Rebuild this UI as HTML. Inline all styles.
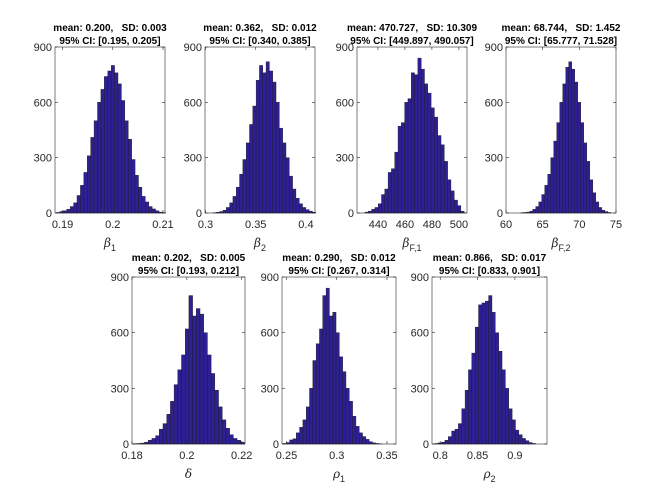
<!DOCTYPE html>
<html><head><meta charset="utf-8"><style>
body{margin:0;background:#fff;}
svg{display:block;font-family:"Liberation Sans",sans-serif;}
text{white-space:pre;}
</style></head><body>
<svg id="fig" width="658" height="489" viewBox="0 0 658 489"></svg>
<script>
const p1Counts=[3,8,12,20,35,55,95,150,220,310,410,500,600,670,740,770,800,760,700,610,500,400,290,205,140,90,60,35,22,12,5,2];
const p2Counts=[2,4,8,15,30,55,90,140,210,290,380,480,580,720,800,760,820,770,710,600,460,380,300,200,130,80,50,30,18,10,4];
const p3Counts=[5,10,20,30,50,100,130,220,240,330,470,490,600,620,760,750,840,780,700,650,570,520,420,370,280,180,120,70,40,10];
const p4Counts=[2,3,5,10,20,35,60,100,150,210,300,390,490,600,700,790,820,780,710,600,490,380,280,180,110,60,30,15,8,3];
const p5Counts=[2,3,5,10,20,30,45,80,110,160,230,320,400,480,620,800,690,730,700,600,480,380,290,200,130,85,50,30,20,10];
const p6Counts=[3,8,22,28,60,90,130,200,300,450,540,620,800,840,690,710,600,470,390,300,230,150,95,60,40,25,12,6,3,1];
const p7Counts=[3,6,10,20,40,70,80,110,190,290,400,490,630,750,760,770,800,710,600,500,400,300,190,130,75,50,30,18,8,3];
const binStarts=[0.1888,0.3075,430.4,62.0,0.1805,0.2465,0.7928];
const binWidths=[0.00068,0.0033,2.45,0.41,0.00135,0.0033,0.0045];
const xLims=[[0.1885,0.2104],[0.2995,0.409],[424.5,506],[60,75],[0.18,0.2212],[0.2455,0.359],[0.789,0.943]];
const xTicks=[[0.19,0.2,0.21],[0.3,0.35,0.4],[440,460,480,500],[60,65,70,75],[0.18,0.2,0.22],[0.25,0.3,0.35],[0.8,0.85,0.9]];
const yTicks=[0,300,600,900];
const titles1=["mean: 0.200,   SD: 0.003","mean: 0.362,   SD: 0.012","mean: 470.727,   SD: 10.309","mean: 68.744,   SD: 1.452","mean: 0.202,   SD: 0.005","mean: 0.290,   SD: 0.012","mean: 0.866,   SD: 0.017"];
const titles2=["95% CI: [0.195, 0.205]","95% CI: [0.340, 0.385]","95% CI: [449.897, 490.057]","95% CI: [65.777, 71.528]","95% CI: [0.193, 0.212]","95% CI: [0.267, 0.314]","95% CI: [0.833, 0.901]"];
const symbols=["β","β","β","β","δ","ρ","ρ"];
const subs=["1","2","F,1","F,2","","1","2"];
const allCounts=[p1Counts,p2Counts,p3Counts,p4Counts,p5Counts,p6Counts,p7Counts];
const boxes=[[55,47,110,166],[205,47,110,166],[357,47,110,166],[506,47,110,166],[132,277,113,167],[282,277,114,167],[432,277,115,167]];
const NS="http://www.w3.org/2000/svg";
const svg=document.getElementById('fig');
function mk(t,a,parent){const e=document.createElementNS(NS,t);for(const k in a)e.setAttribute(k,a[k]);(parent||svg).appendChild(e);return e;}
function fmt(v){return String(+v.toFixed(4));}
for(let i=0;i<7;i++){
  const [bx,by,bw,bh]=boxes[i];
  const g=mk('g',{});
  
  
  const xs=v=>bx+(v-xLims[i][0])/(xLims[i][1]-xLims[i][0])*bw;
  const ys=v=>by+bh-v/900*bh;
  const c=allCounts[i];
  for(let j=0;j<c.length;j++){
    const x0=xs(binStarts[i]+j*binWidths[i]),x1=xs(binStarts[i]+(j+1)*binWidths[i]);
    const r=mk('rect',{x:x0,y:ys(c[j]),width:x1-x0,height:ys(0)-ys(c[j]),fill:'#2e1f94',stroke:'#1a1a1a','stroke-width':0.4},g);
    
    
  }
  const box=mk('rect',{x:bx,y:by,width:bw,height:bh,fill:'none',stroke:'#262626','stroke-width':0.6},g);
  
  
  yTicks.forEach(t=>{
    const y=ys(t);
    mk('line',{x1:bx,x2:bx+3,y1:y,y2:y,stroke:'#262626','stroke-width':0.6},g);
    mk('line',{x1:bx+bw,x2:bx+bw-3,y1:y,y2:y,stroke:'#262626','stroke-width':0.6},g);
    const tx=mk('text',{x:bx-3,y:y+4,'font-size':11,fill:'#262626','text-anchor':'end'},g);
    tx.textContent=t;
    
    
  });
  xTicks[i].forEach(t=>{
    const x=xs(t);
    mk('line',{x1:x,x2:x,y1:by+bh,y2:by+bh-3,stroke:'#262626','stroke-width':0.6},g);
    mk('line',{x1:x,x2:x,y1:by,y2:by+3,stroke:'#262626','stroke-width':0.6},g);
    const tx=mk('text',{x:x,y:by+bh+15,'font-size':11,fill:'#262626','text-anchor':'middle'},g);
    tx.textContent=fmt(t);
    
    
  });
  const cx=bx+bw/2;
  const t1=mk('text',{x:cx,y:by-16,'font-size':10,'font-weight':'bold',fill:'#000','text-anchor':'middle'},g);
  t1.textContent=titles1[i];
  
  
  const t2=mk('text',{x:cx,y:by-3,'font-size':10,'font-weight':'bold',fill:'#000','text-anchor':'middle'},g);
  t2.textContent=titles2[i];
  
  
  const xl=mk('text',{x:cx,y:by+bh+34,'font-size':12,fill:'#262626','text-anchor':'middle','font-family':'"DejaVu Serif",serif','font-style':'italic'},g);
  
  
  const s1=mk('tspan',{},xl); s1.textContent=symbols[i];
  if(subs[i]){const s2=mk('tspan',{dy:4,'font-size':9,'font-style':'normal','font-family':'"Liberation Sans",sans-serif'},xl); s2.textContent=subs[i];}
}
</script>
</body></html>
